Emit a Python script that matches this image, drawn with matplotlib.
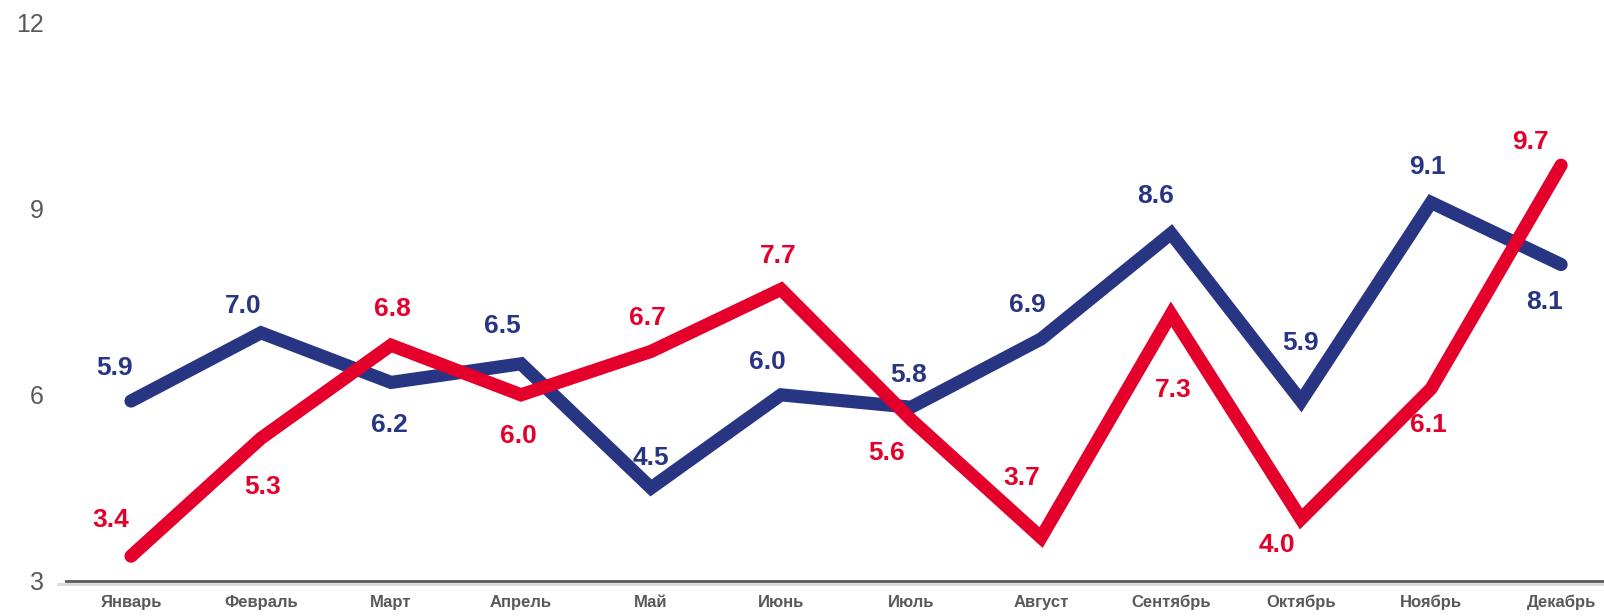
import matplotlib
matplotlib.use("Agg")
import matplotlib.pyplot as plt
import matplotlib.transforms as mtransforms

plt.rcParams['font.family'] = ['Liberation Sans', 'DejaVu Sans']

MONTHS = ["Январь", "Февраль", "Март", "Апрель", "Май", "Июнь",
          "Июль", "Август", "Сентябрь", "Октябрь", "Ноябрь", "Декабрь"]
BLUE_VALUES = [5.9, 7.0, 6.2, 6.5, 4.5, 6.0, 5.8, 6.9, 8.6, 5.9, 9.1, 8.1]
RED_VALUES = [3.4, 5.3, 6.8, 6.0, 6.7, 7.7, 5.6, 3.7, 7.3, 4.0, 6.1, 9.7]
Y_TICKS = [3, 6, 9, 12]

BLUE = "#283583"
RED = "#E4002B"
GRAY = "#595959"

# label offsets in pixels (dx, dy; dy positive = down)
BLUE_OFFSETS = [(-16, -32), (-17, -26), (-2, 42), (-18, -37), (0, -29), (-13, -32),
                (-2, -32), (-13, -33), (-15, -37), (-1, -57), (-4, -35), (-16, 37)]
RED_OFFSETS = [(-20, -35), (2, 48), (1, -35), (-3, 40), (-4, -33), (-3, -33),
               (-24, 33), (-19, -58), (2, 74), (-24, 25), (-3, 36), (-30, -23)]

DPI = 100
fig = plt.figure(figsize=(16.04, 6.16), dpi=DPI)
ax = fig.add_axes([66 / 1604, 35 / 616, 1 - 66 / 1604, (581 - 22.5) / 616])

x = list(range(len(MONTHS)))
ax.plot(x, BLUE_VALUES, color=BLUE, lw=9.5, solid_capstyle='round',
        solid_joinstyle='miter', zorder=3)
ax.plot(x, RED_VALUES, color=RED, lw=9.5, solid_capstyle='round',
        solid_joinstyle='miter', zorder=4)

px = 72 / DPI * 1.023
for vals, offs, col in [(BLUE_VALUES, BLUE_OFFSETS, BLUE), (RED_VALUES, RED_OFFSETS, RED)]:
    for i, (v, (dx, dy)) in enumerate(zip(vals, offs)):
        ax.annotate(f"{v:.1f}", (i, v), xytext=(dx * px, -dy * px),
                    textcoords='offset points', ha='center', va='center',
                    fontsize=19, fontweight='bold', color=col, zorder=5)

ax.set_xlim(-0.5, 11.33)
ax.set_ylim(3, 12)
ax.set_yticks(Y_TICKS)
ax.set_xticks(x)
ax.set_xticklabels(MONTHS, fontsize=12, fontweight='bold', color=GRAY)
ax.tick_params(axis='y', length=0, labelsize=18, labelcolor=GRAY, pad=16)
ax.tick_params(axis='x', length=0, pad=10)

for s in ['top', 'right', 'left']:
    ax.spines[s].set_visible(False)
ax.spines['bottom'].set_color(GRAY)
ax.spines['bottom'].set_linewidth(2)
ax.spines['bottom'].set_zorder(2)

# light shadow line under the axis
shift = mtransforms.ScaledTranslation(-8 / DPI, -3 / DPI, fig.dpi_scale_trans)
ax.plot([0, 1.01], [0, 0], transform=ax.transAxes + shift, color="#d9d9d9",
        lw=2, clip_on=False, zorder=1)

fig.savefig("out.png", dpi=DPI)
